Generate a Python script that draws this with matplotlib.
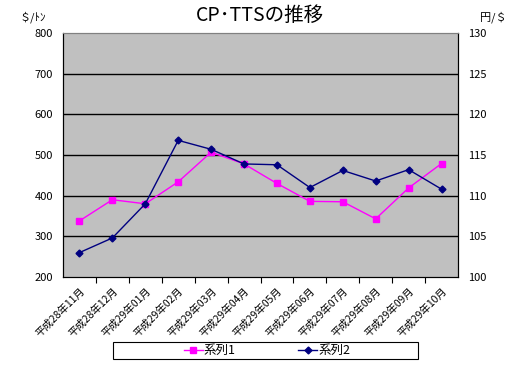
import matplotlib
matplotlib.use('Agg')
import matplotlib.pyplot as plt
from matplotlib.patches import Rectangle

plt.rcParams['font.family'] = ['Noto Sans CJK JP', 'DejaVu Sans']

# 月ラベル
months = ['平成28年11月', '平成28年12月', '平成29年01月', '平成29年02月', '平成29年03月',
          '平成29年04月', '平成29年05月', '平成29年06月', '平成29年07月', '平成29年08月',
          '平成29年09月', '平成29年10月']
# 系列1 ($/ﾄﾝ, 左軸)
series1 = [338, 390, 380, 434, 507, 478, 430, 386, 385, 343, 419, 479]
# 系列2 (円/$, 右軸)
series2 = [103.0, 104.8, 109.0, 116.8, 115.7, 113.9, 113.8, 111.0, 113.1, 111.8, 113.2, 110.8]

left_ticks = [200, 300, 400, 500, 600, 700, 800]
right_ticks = [100, 105, 110, 115, 120, 125, 130]

fig = plt.figure(figsize=(5.2, 3.66), dpi=100)
ax = fig.add_axes([63/520, 1-277/366, (458-63)/520, (277-33)/366])
ax2 = ax.twinx()

x = list(range(len(months)))
ax.set_facecolor('#C0C0C0')
ax.set_xlim(-0.5, len(months) - 0.5)
ax.set_ylim(200, 800)
ax.set_yticks(left_ticks)
ax2.set_ylim(100, 130)
ax2.set_yticks(right_ticks)

for y in left_ticks[1:-1]:
    ax.axhline(y, color='black', linewidth=1, zorder=1)

l1, = ax.plot(x, series1, color='#FF00FF', marker='s', markersize=4, linewidth=1, zorder=3, label='系列1')
l2, = ax2.plot(x, series2, color='#000080', marker='D', markersize=3.5, linewidth=1, zorder=3, label='系列2')

# 軸の枠
for a in (ax, ax2):
    a.spines['top'].set_color('#808080')
    a.spines['left'].set_color('black')
    a.spines['right'].set_color('black')
    a.spines['bottom'].set_color('black')

ax.set_xticks([i - 0.5 for i in range(1, len(months))])
ax.set_xticklabels([])
ax.set_xticks(x, minor=True)
ax.set_xticklabels(months, minor=True, rotation=45, ha='right', va='top',
                   rotation_mode='anchor', fontsize=7.5)
ax.tick_params(axis='x', which='major', length=4, direction='out')
ax.tick_params(axis='x', which='minor', length=0, pad=6)
ax.tick_params(axis='y', length=0, labelsize=8, pad=7)
ax2.tick_params(axis='y', length=0, labelsize=8, pad=7)

fig.text(0.5, 1-15/366, 'CP･TTSの推移', ha='center', va='center', fontsize=14)
fig.text(20/520, 1-17/366, '＄/ﾄﾝ', ha='left', va='center', fontsize=8)
fig.text(480/520, 1-17/366, '円/＄', ha='left', va='center', fontsize=8)

fig.patches.append(Rectangle((113/520, 1-359/366), 305/520, 17/366, transform=fig.transFigure,
                             facecolor='white', edgecolor='black', linewidth=0.8))
fig.legend(handles=[l1, l2], loc='center', bbox_to_anchor=(267/520, 1-350.5/366), ncol=2,
           frameon=False, fontsize=9, handlelength=1.5, handletextpad=0.1,
           columnspacing=5, borderpad=0)

fig.savefig('out.png', dpi=100)
